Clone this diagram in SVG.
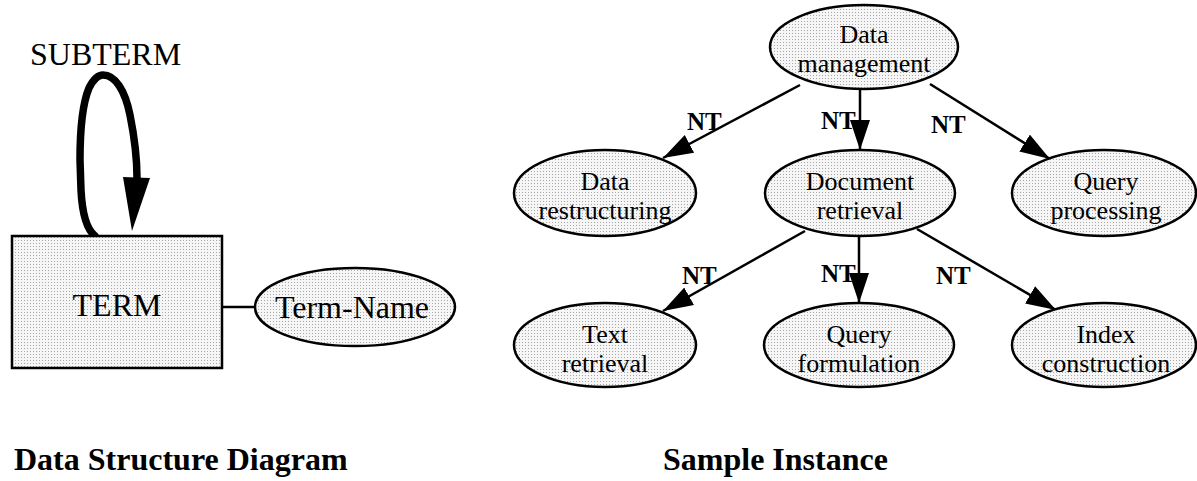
<svg xmlns="http://www.w3.org/2000/svg" width="1197" height="481" viewBox="0 0 1197 481">
<defs>
<pattern id="dots" width="3" height="3" patternUnits="userSpaceOnUse">
<rect width="3" height="3" fill="#f6f6f6"/>
<rect width="1" height="1" fill="#a8a8a8"/>
</pattern>
<marker id="arr" viewBox="0 0 30 20" refX="30" refY="10" markerWidth="30" markerHeight="20" markerUnits="userSpaceOnUse" orient="auto">
<path d="M0,0 L30,10 L0,20 Z" fill="#000"/>
</marker>
</defs>
<style>
.shape{fill:url(#dots);stroke:#000;stroke-width:2.5}
.lbl{font-family:"Liberation Serif","Times New Roman",serif;font-size:26px;fill:#000;text-anchor:middle}
.big{font-family:"Liberation Serif","Times New Roman",serif;font-size:32px;fill:#000}
.nt{font-family:"Liberation Serif","Times New Roman",serif;font-size:25px;font-weight:bold;fill:#000}
.title{font-family:"Liberation Serif","Times New Roman",serif;font-size:32px;font-weight:bold;fill:#000}
.edge{stroke:#000;stroke-width:2.5;fill:none;marker-end:url(#arr)}
</style>
<g id="connectors">
<path d="M95,236 C85,228 82,210 81,190 L80,160 C80,120 84,100 89,88 C94,78 98,75 103,75 C115,75 125,90 130,115 C135,140 137,155 137,178" fill="none" stroke="#000" stroke-width="7.5" stroke-linecap="round"/>
<polygon points="123,177 150,178 132,231" fill="#000"/>
<line x1="222" y1="307" x2="255" y2="307" stroke="#000" stroke-width="2.5"/>
<line class="edge" x1="800" y1="85" x2="663" y2="158"/>
<line class="edge" x1="860" y1="89" x2="860" y2="150"/>
<line class="edge" x1="930" y1="84" x2="1050" y2="159"/>
<line class="edge" x1="805" y1="231" x2="663" y2="311"/>
<line class="edge" x1="859" y1="236" x2="859" y2="303"/>
<line class="edge" x1="917" y1="229" x2="1056" y2="310"/>
<text class="nt" x="687" y="130">NT</text>
<text class="nt" x="821" y="129">NT</text>
<text class="nt" x="931" y="133">NT</text>
<text class="nt" x="682" y="284">NT</text>
<text class="nt" x="821" y="282">NT</text>
<text class="nt" x="936" y="284">NT</text>
<text class="big" x="30" y="65">SUBTERM</text>
</g>
<g id="term">
<rect class="shape" x="12" y="236" width="210" height="132" stroke-width="3"/>
<text class="big" x="117" y="316" text-anchor="middle">TERM</text>
</g>
<g id="term-name">
<ellipse class="shape" cx="355" cy="307" rx="100" ry="39"/>
<text class="big" x="352" y="318" text-anchor="middle">Term-Name</text>
</g>
<g id="data-management">
<ellipse class="shape" cx="864" cy="47" rx="94" ry="42"/>
<text class="lbl" x="864" y="43">Data</text>
<text class="lbl" x="864" y="72">management</text>
</g>
<g id="data-restructuring">
<ellipse class="shape" cx="605" cy="193" rx="91" ry="43"/>
<text class="lbl" x="605" y="190">Data</text>
<text class="lbl" x="605" y="219">restructuring</text>
</g>
<g id="document-retrieval">
<ellipse class="shape" cx="860" cy="193" rx="95" ry="43"/>
<text class="lbl" x="860" y="190">Document</text>
<text class="lbl" x="860" y="219">retrieval</text>
</g>
<g id="query-processing">
<ellipse class="shape" cx="1104" cy="193" rx="92" ry="43"/>
<text class="lbl" x="1106" y="190">Query</text>
<text class="lbl" x="1106" y="219">processing</text>
</g>
<g id="text-retrieval">
<ellipse class="shape" cx="605" cy="345" rx="91" ry="42"/>
<text class="lbl" x="605" y="343">Text</text>
<text class="lbl" x="605" y="372">retrieval</text>
</g>
<g id="query-formulation">
<ellipse class="shape" cx="859" cy="345" rx="95" ry="42"/>
<text class="lbl" x="859" y="343">Query</text>
<text class="lbl" x="859" y="372">formulation</text>
</g>
<g id="index-construction">
<ellipse class="shape" cx="1104" cy="345" rx="92" ry="42"/>
<text class="lbl" x="1106" y="343">Index</text>
<text class="lbl" x="1106" y="372">construction</text>
</g>
<g id="captions">
<text class="title" x="14" y="470">Data Structure Diagram</text>
<text class="title" x="663" y="470">Sample Instance</text>
</g>
</svg>
